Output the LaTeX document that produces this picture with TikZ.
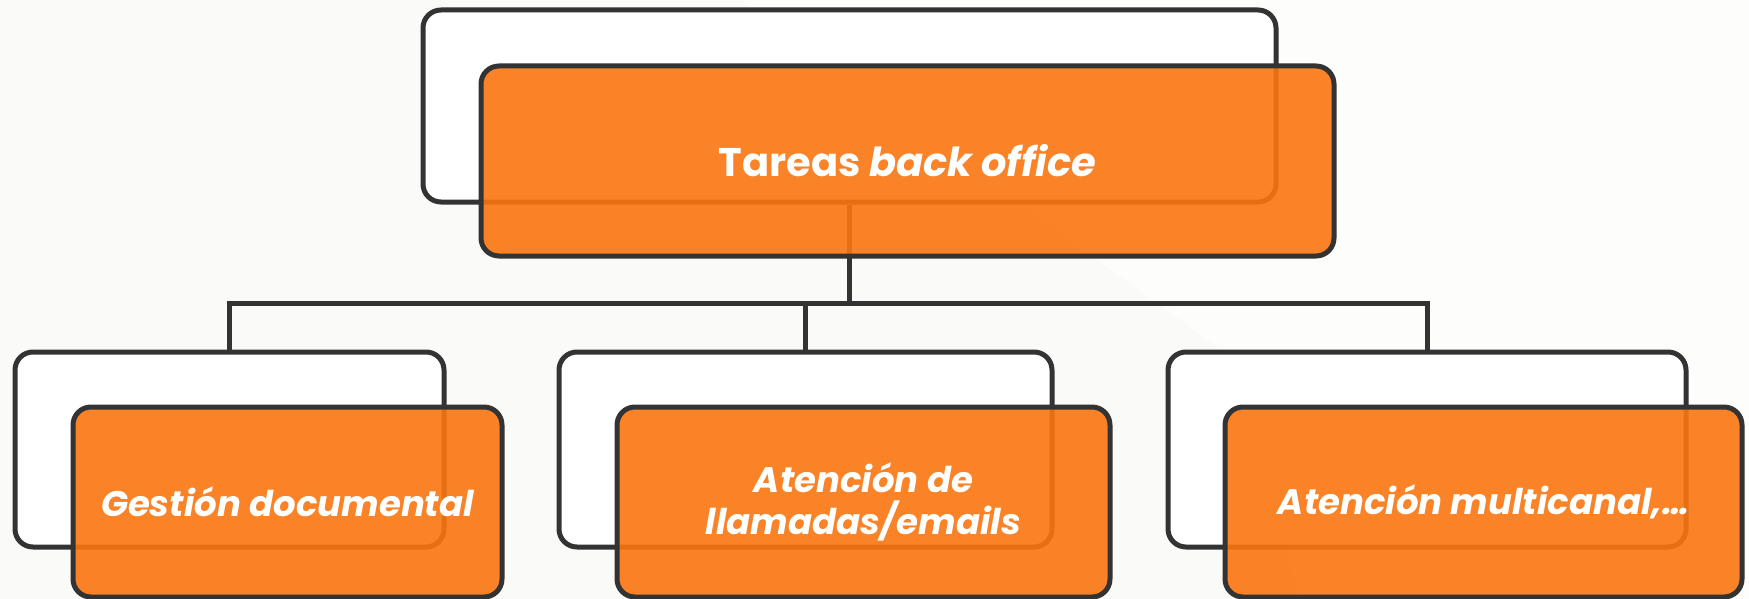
\documentclass[tikz,border=0pt]{standalone}
\usepackage{fontspec}
\setmainfont{Poppins}
\definecolor{bgc}{RGB}{250,250,248}
\definecolor{linec}{RGB}{51,51,51}
\definecolor{orfill}{RGB}{250,117,16}
\tikzset{
  whitebox/.style={draw=linec, line width=5pt, fill=white, rounded corners=18pt, inner sep=0pt},
  orbox/.style={draw=linec, line width=5pt, fill=orfill, fill opacity=0.9, draw opacity=1, text opacity=1,
    rounded corners=18pt, inner sep=0pt, text=white, align=center, font=\fontsize{35.5}{42}\selectfont\bfseries\itshape},
  conn/.style={draw=linec, line width=5pt, line join=miter}
}
\begin{document}
\begin{tikzpicture}[x=1pt,y=-1pt]
\useasboundingbox (0,0) rectangle (1749,599);
\fill[bgc] (0,0) rectangle (1749,599);
\fill[white, opacity=0.6] (740,0) -- (1749,0) -- (1749,599) -- (1300,599) -- (1216,346) -- cycle;
% white back boxes
\node[whitebox, minimum width=853pt, minimum height=192pt] (tw) at (849.5,106) {};
\node[whitebox, minimum width=429pt, minimum height=195pt] (lw) at (229.5,449.5) {};
\node[whitebox, minimum width=493pt, minimum height=195pt] (mw) at (805.5,449.5) {};
\node[whitebox, minimum width=518pt, minimum height=195pt] (rw) at (1427,449.5) {};
% connectors
\coordinate (j) at (849.5,303);
\draw[conn] (tw.south) -- (j);
\draw[conn] (lw.north) |- (j) -| (rw.north);
\draw[conn] (mw.north) -- (mw.north |- j);
% orange front boxes
\node[orbox, minimum width=853pt, minimum height=190pt, font=\fontsize{40}{46}\selectfont\bfseries] (to) at (907.5,161) {Tareas \textit{back office}};
\node[orbox, minimum width=429pt, minimum height=190pt] (lo) at (287.5,502) {Gestión documental};
\node[orbox, minimum width=493pt, minimum height=190pt] (mo) at (863.5,502) {Atención de\\llamadas/emails};
\node[orbox, minimum width=517pt, minimum height=190pt] (ro) at (1483.5,502) {Atención multicanal,…};
\end{tikzpicture}
\end{document}
